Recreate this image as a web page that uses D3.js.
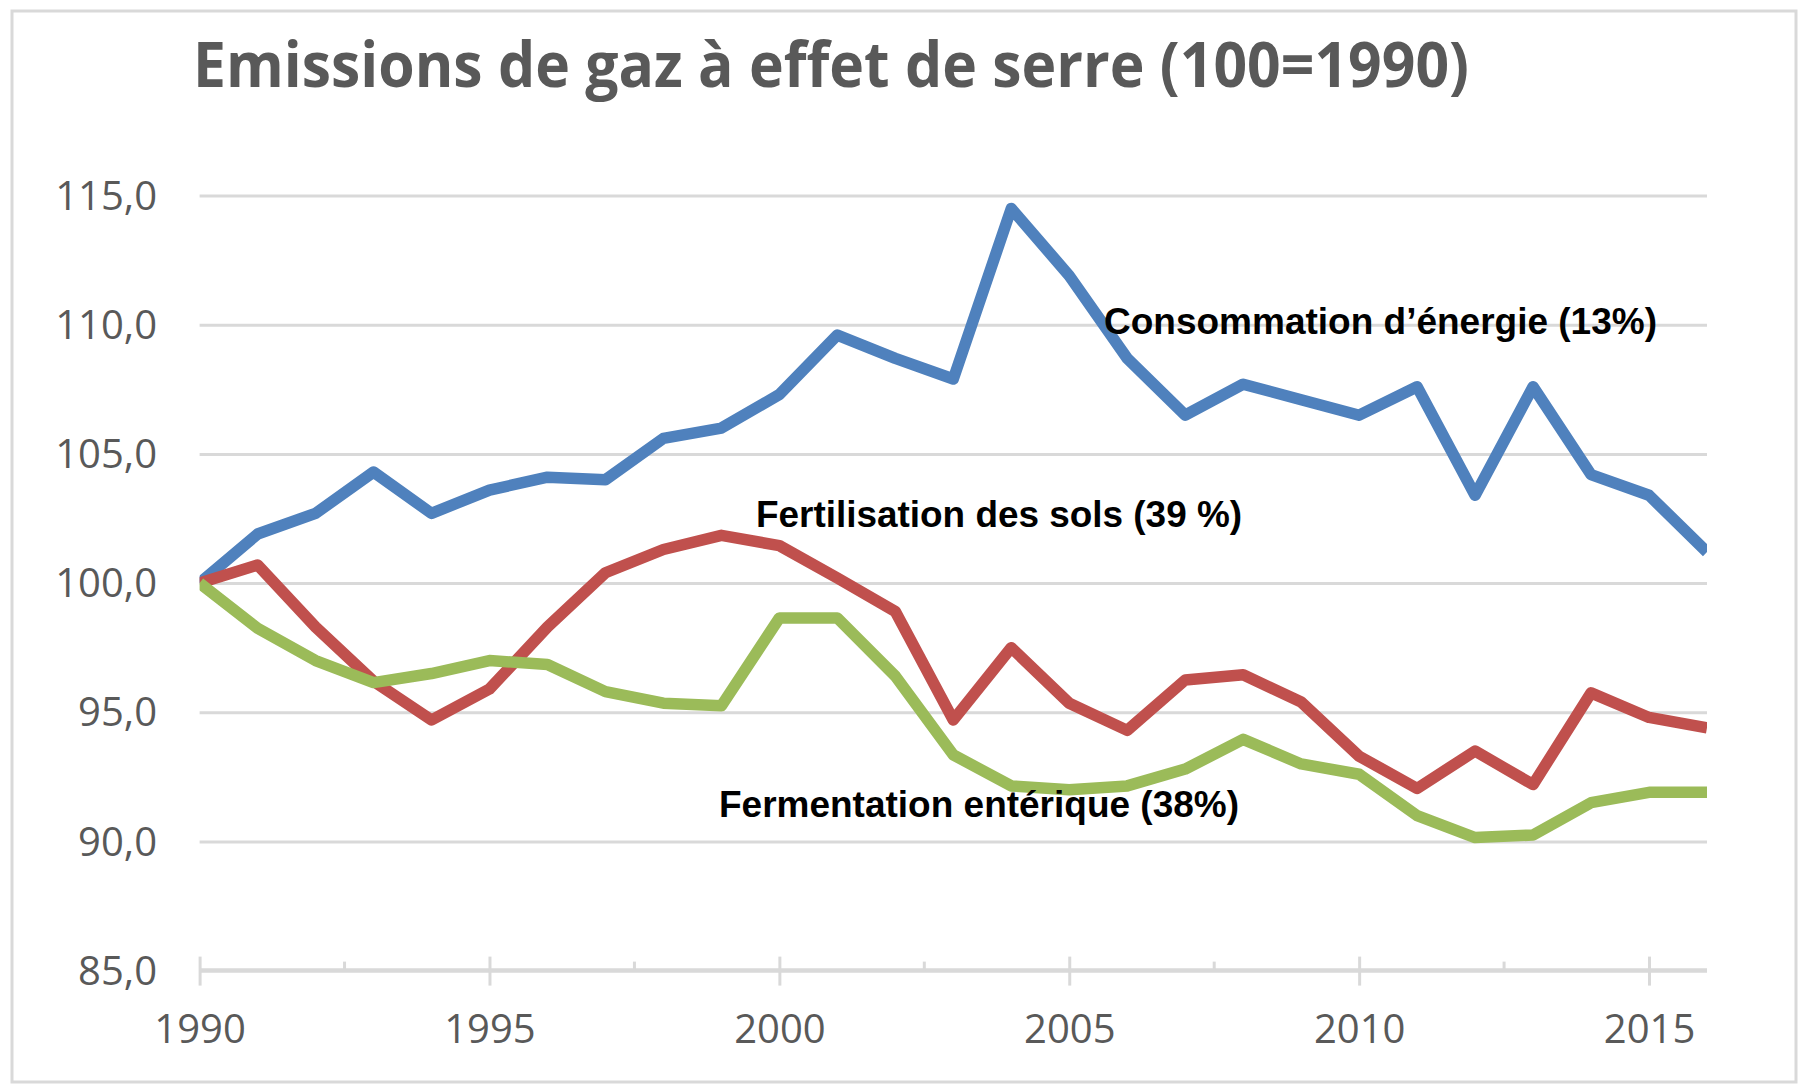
<!DOCTYPE html>
<html>
<head>
<meta charset="utf-8">
<script src="https://cdn.jsdelivr.net/npm/d3@7"></script>
<style>
  html, body { margin: 0; padding: 0; background: #ffffff; }
  svg { display: block; }
</style>
</head>
<body>
<svg id="chart" width="1799" height="1085"></svg>
<script>
// ---- data ----
const years = [1990,1991,1992,1993,1994,1995,1996,1997,1998,1999,2000,2001,2002,2003,2004,2005,2006,2007,2008,2009,2010,2011,2012,2013,2014,2015,2016];
const energie = [100.0,101.9,102.7,104.3,102.7,103.6,104.1,104.0,105.6,106.0,107.3,109.6,108.7,107.9,114.5,111.9,108.7,106.5,107.7,107.1,106.5,107.6,103.4,107.6,104.2,103.4,101.2];
const fertilisation = [100.0,100.7,98.3,96.2,94.7,95.9,98.3,100.4,101.3,101.85,101.45,100.2,98.9,94.7,97.5,95.35,94.3,96.25,96.45,95.4,93.3,92.05,93.5,92.2,95.75,94.8,94.4];
const fermentation = [100.0,98.25,97.0,96.15,96.5,97.0,96.85,95.8,95.35,95.25,98.65,98.65,96.4,93.35,92.15,92.0,92.15,92.8,93.95,93.0,92.6,91.0,90.15,90.25,91.5,91.9,91.9];
const yTicks = [85,90,95,100,105,110,115];
const xMajorTicks = [1990,1995,2000,2005,2010,2015];
const xMinorTicks = [1992.5,1997.5,2002.5,2007.5,2012.5];
const seriesNames = ["Consommation d’énergie (13%)","Fertilisation des sols (39 %)","Fermentation entérique (38%)"];
const titleText = "Emissions de gaz à effet de serre (100=1990)";

// ---- layout ----
const svg = d3.select("#chart");
const X0 = 199.6, X1 = 1707, Y0 = 970.6, Y1 = 195.6;
const x = d3.scaleLinear().domain([1990, 2016]).range([X0, X1]);
const y = d3.scaleLinear().domain([85, 115]).range([Y0, Y1]);
const grid = "#d9d9d9";
const textGray = "#595959";
const locale = d3.formatLocale({decimal: ",", thousands: " ", grouping: [3], currency: ["", "€"]});
const fmt = locale.format(".1f");

// frame
svg.append("rect").attr("x", 12).attr("y", 11).attr("width", 1784).attr("height", 1071)
  .attr("fill", "#fff").attr("stroke", grid).attr("stroke-width", 3);

// title
svg.append("text").attr("x", 193).attr("y", 87)
  .attr("font-family", "'Open Sans', sans-serif").attr("font-weight", 700)
  .attr("font-size", 62).attr("fill", textGray)
  .attr("textLength", 1276).attr("lengthAdjust", "spacingAndGlyphs")
  .text(titleText);

// y axis with gridlines
const yAxis = d3.axisLeft(y).tickValues(yTicks).tickFormat(fmt)
  .tickSize(-(X1 - X0)).tickPadding(42);
const gy = svg.append("g").attr("transform", `translate(${X0},0)`).call(yAxis);
gy.select(".domain").remove();
gy.selectAll(".tick line").attr("stroke", grid).attr("stroke-width", 3)
  .filter(d => d === 85).remove();
gy.selectAll(".tick text").attr("font-family", "'Open Sans', sans-serif")
  .attr("font-size", 40).attr("fill", textGray).attr("x", 157 - X0).attr("dy", "0.34em");

// x axis
const xAxis = d3.axisBottom(x).tickValues(xMajorTicks).tickFormat(d3.format("d"))
  .tickSize(15).tickPadding(0);
const gx = svg.append("g").attr("transform", `translate(0,${Y0})`).call(xAxis);
gx.select(".domain").attr("stroke", grid).attr("stroke-width", 4.5)
  .attr("d", `M${X0},0H${X1}`);
gx.selectAll(".tick line").attr("stroke", grid).attr("stroke-width", 3).attr("y1", -14).attr("y2", 15);
gx.selectAll(".tick text").attr("font-family", "'Open Sans', sans-serif")
  .attr("font-size", 40).attr("fill", textGray).attr("y", 72).attr("dy", 0);
gx.selectAll(".minor").data(xMinorTicks).enter().append("line").attr("class", "minor")
  .attr("x1", d => x(d)).attr("x2", d => x(d)).attr("y1", -9).attr("y2", 0)
  .attr("stroke", grid).attr("stroke-width", 3);

// lines
svg.append("clipPath").attr("id", "plotclip").append("rect")
  .attr("x", X0).attr("y", 0).attr("width", X1 - X0).attr("height", 1085);
const line = d3.line().x((d, i) => x(years[i])).y(d => y(d));
const series = [
  {values: energie, color: "#4f81bd"},
  {values: fertilisation, color: "#c0504d"},
  {values: fermentation, color: "#9bbb59"}
];
const gl = svg.append("g").attr("clip-path", "url(#plotclip)");
gl.selectAll("path").data(series).enter().append("path")
  .attr("d", d => line(d.values)).attr("fill", "none")
  .attr("stroke", d => d.color).attr("stroke-width", 11.5)
  .attr("stroke-linejoin", "round").attr("stroke-linecap", "butt");

// labels
const labels = [
  {text: seriesNames[0], x: 1104, y: 334, w: 553},
  {text: seriesNames[1], x: 756, y: 527, w: 486},
  {text: seriesNames[2], x: 719, y: 817, w: 520}
];
svg.selectAll(".lbl").data(labels).enter().append("text").attr("class", "lbl")
  .attr("x", d => d.x).attr("y", d => d.y)
  .attr("font-family", "'Liberation Sans', Arial, sans-serif").attr("font-weight", 700)
  .attr("font-size", 37.5).attr("fill", "#000")
  .attr("textLength", d => d.w).attr("lengthAdjust", "spacingAndGlyphs")
  .text(d => d.text);
</script>
</body>
</html>
